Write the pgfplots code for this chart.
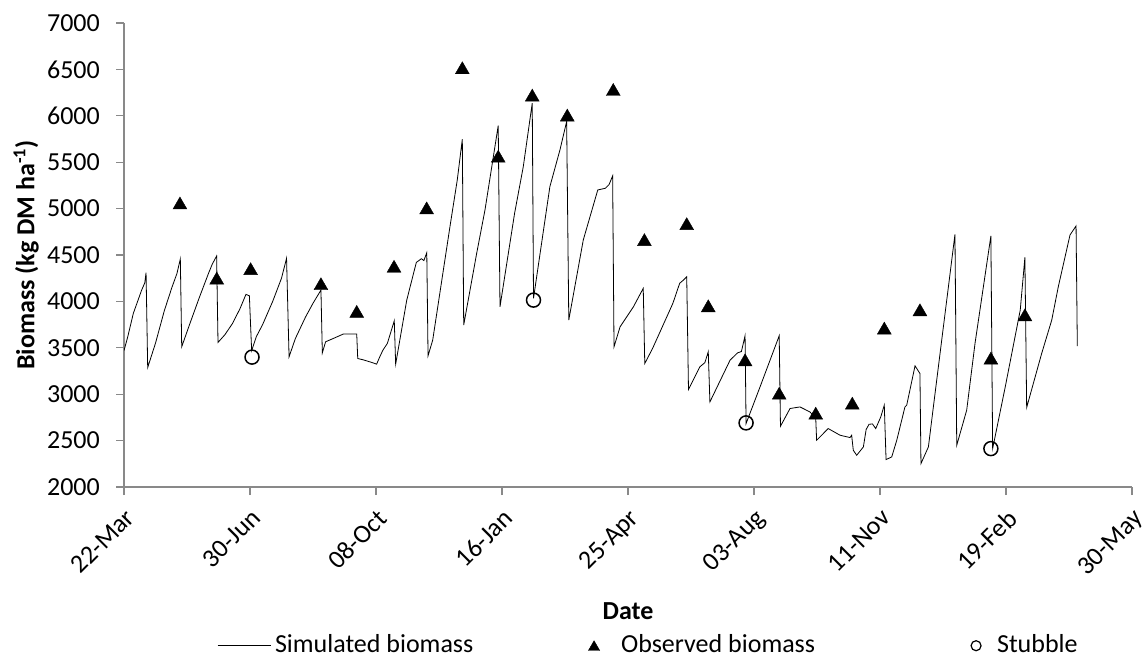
\documentclass[border=0pt]{standalone}
\usepackage{fontspec}
\setmainfont{Carlito}
\usepackage{pgfplots}
\pgfplotsset{compat=1.18}
\usetikzlibrary{calc}
\definecolor{axgray}{HTML}{898989}
\newcommand{\ff}{\fontsize{26}{30}\selectfont}
\begin{document}
\ff
\begin{tikzpicture}
\begin{axis}[
 scale only axis, width=1008pt, height=464pt,
 xmin=0, xmax=800, ymin=2000, ymax=7000,
 axis lines*=left,
 axis line style={axgray, line width=1.2pt},
 every tick/.style={axgray, line width=1.2pt},
 tick align=outside, major tick length=8pt,
 xtick={0,100,...,800},
 xticklabels={22-Mar,30-Jun,08-Oct,16-Jan,25-Apr,03-Aug,11-Nov,19-Feb,30-May},
 xticklabel shift={11pt},
 x tick label style={rotate=45, anchor=north east, inner sep=1pt, font=\ff},
 y tick label style={font=\ff, inner sep=2pt, xshift=-14pt},
 ytick={2000,2500,...,7000},
 /pgf/number format/1000 sep={},
 /pgf/number format/assume math mode=true,
 xlabel={\textbf{Date}},
 xlabel style={at={(axis description cs:0.5,-0.268)}, anchor=center, font=\ff},
 ylabel={\textbf{Biomass (kg DM ha\textsuperscript{-1})}},
 ylabel style={at={(axis description cs:-0.097,0.5)}, anchor=center, font=\ff},
 legend columns=3,
 legend style={draw=none, fill=none, inner sep=0pt, column sep=0pt,
   nodes={inner sep=0pt}, at={(axis description cs:0.0923,-0.342)}, anchor=west, font=\ff},
 legend cell align=left,
]
\addplot[black, line width=0.8pt, mark=none,
  legend image code/.code={\path[draw=none,fill=none] (0pt,-6pt) rectangle (53pt,6pt); \draw[black, line width=0.8pt] (0pt,0pt) -- (53pt,0pt);}] coordinates {
(0,3470) (3,3620) (7.4,3871) (14,4122) (16.5,4200) (17.5,4309) (18.8,3288)
(25,3550) (32,3900) (38,4150) (42,4300) (44.7,4457) (45.8,3511)
(52,3750) (60,4050) (67,4300) (70,4400) (73.5,4489) (74.6,3558)
(80,3640) (86,3760) (92,3920) (96.8,4076) (99.5,4060) (101.3,3470)
(105,3620) (110,3750) (118,4000) (125,4250) (129,4464) (131,3403)
(136,3600) (144,3830) (150,3980) (156.3,4122) (157.4,3446)
(160,3565) (166,3600) (174,3648) (184.7,3648) (185.5,3385)
(190,3370) (196,3345) (200.5,3324) (203,3403) (205.5,3475) (209,3547)
(214.5,3791) (215.6,3324) (224.4,4014) (232,4420) (236,4460) (238,4440)
(240.3,4525) (241.3,3414) (245,3583) (258.7,4806) (264.5,5309) (268.5,5748)
(269.6,3745) (279.9,4518) (286.5,4986) (294.4,5669) (297,5895)
(298.4,3942) (310,4950) (316.9,5453) (324,6137)
(325,4033) (338,5237) (346,5633) (351.3,5938)
(353,3799) (364.5,4662) (376,5201) (382,5219) (385,5260) (387.8,5352)
(388.9,3511) (393.7,3726) (404.3,3942) (412.1,4141)
(413.3,3331) (419.5,3493) (435.6,3979) (441,4195) (444,4230) (446.6,4266)
(448,3051) (457,3295) (461,3340) (463.7,3457)
(465,2917) (481,3367) (487,3446) (490,3460) (492.9,3630)
(493.7,2684) (504.8,3079) (520,3630)
(521,2655) (528.6,2846) (536.5,2863) (544.4,2809) (549,2738)
(549.7,2504) (558.9,2630) (568.3,2558) (576.2,2533) (577.5,2558) (578.8,2396)
(581.5,2342) (586.8,2432) (589,2620) (591.3,2676) (594,2680) (596.6,2630)
(600.6,2755) (603.4,2882)
(604.8,2296) (609.3,2324) (613.3,2504) (619.8,2863) (621.2,2882) (627.8,3306) (631.7,3223)
(632.5,2252) (638.4,2432) (645,3151) (659.5,4723)
(660.9,2450) (668.8,2828) (675.4,3547) (688,4705)
(689.4,2414) (699.4,3079) (711.3,3906) (715,4475)
(716.4,2857) (728.3,3439) (736.3,3799) (741.5,4158) (750.8,4716) (755.6,4813)
(756.6,3518)
};
\addlegendentry{\makebox[315pt][l]{\hspace{4pt}Simulated biomass}}
\addplot[only marks, mark=triangle*, mark size=8pt, black,
  legend image code/.code={\path[draw=none,fill=none] (0pt,-6pt) rectangle (16pt,6pt); \draw[black, mark size=6.5pt] plot[mark=triangle*] coordinates {(8pt,-1.5pt)};}] coordinates {
(44.4,5039) (73.6,4230) (100.5,4331) (156.3,4169) (184.7,3871)
(214.3,4357) (240.2,4986) (268.5,6496) (297,5543) (324,6201)
(351.8,5986) (388.3,6262) (413,4644) (446.6,4816) (463.7,3931)
(492.9,3349) (520,2989) (549,2774) (578,2882) (603.4,3691)
(631.7,3888) (688,3367) (715,3834)
};
\addlegendentry{\makebox[366pt][l]{\hspace{19pt}Observed biomass}}
\addplot[only marks, mark=o, mark size=7pt, black, line width=1.5pt, mark options={fill=white},
  legend image code/.code={\path[draw=none,fill=none] (0pt,-6pt) rectangle (16pt,6pt); \draw[black, line width=1.2pt, mark size=5pt] plot[mark=o] coordinates {(8pt,0pt)};}] coordinates {
(101.6,3400) (325,4014) (493.7,2691) (688,2414)
};
\addlegendentry{\hspace{13pt}Stubble}
\end{axis}
\pgfresetboundingbox
\path ($(current axis.south west)+(-124pt,-172pt)$) rectangle ($(current axis.north east)+(15pt,23pt)$);
\end{tikzpicture}
\end{document}
